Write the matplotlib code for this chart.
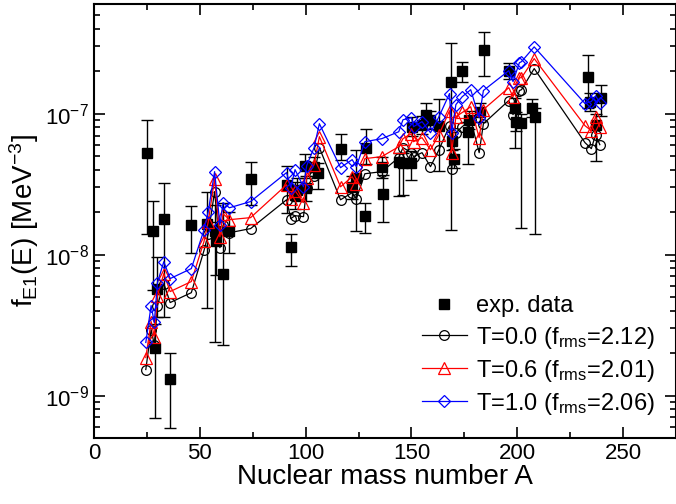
import matplotlib
matplotlib.use('Agg')
import matplotlib.pyplot as plt
from matplotlib.ticker import MultipleLocator, LogLocator, NullFormatter
import numpy as np

plt.rcParams['font.family'] = ['Liberation Sans', 'DejaVu Sans']
plt.rcParams['mathtext.default'] = 'regular'

# experimental points: mass number, value, lower and upper end of the error bar
exp_A = [25, 28, 29, 30, 33, 36, 46, 53.5, 57, 57.5, 61, 64, 74,
         91, 93, 95, 96, 99.5, 100, 104, 106, 116.5, 122, 124, 128, 128.5,
         136, 136.5, 144, 146, 150, 150.5, 155, 157, 159, 163, 168.5, 169, 170,
         174, 176.5, 177, 182.5, 184.5, 196, 199, 199.5, 202, 207, 208.5,
         233.5, 234.5, 237, 239.5]
exp_f = [5.29e-8, 1.48e-8, 2.19e-9, 5.74e-9, 1.80e-8, 1.30e-9, 1.63e-8, 1.66e-8, 1.46e-8, 1.24e-8, 7.33e-9, 1.48e-8, 3.46e-8,
         3.13e-8, 1.14e-8, 2.67e-8, 2.89e-8, 4.28e-8, 2.99e-8, 4.21e-8, 3.82e-8, 5.65e-8, 3.03e-8, 3.52e-8, 1.89e-8, 5.74e-8,
         4.21e-8, 2.71e-8, 4.57e-8, 4.49e-8, 4.49e-8, 8.09e-8, 8.36e-8, 9.84e-8, 9.06e-8, 8.22e-8, 1.69e-7, 6.44e-8, 4.80e-8,
         2.02e-7, 7.45e-8, 9.06e-8, 1.03e-7, 2.84e-7, 2.02e-7, 1.10e-7, 8.78e-8, 8.63e-8, 1.10e-7, 9.52e-8,
         1.83e-7, 1.22e-7, 8.36e-8, 1.30e-7]
exp_lo = [1.39e-8, 5.65e-9, 6.98e-10, 3.63e-9, 3.63e-9, 5.93e-10, 1.03e-8, 4.21e-9, 2.41e-9, 7.21e-9, 2.30e-9, 1.03e-8, 2.26e-8,
          1.99e-8, 8.36e-9, 2.10e-8, 2.40e-8, 3.50e-8, 2.40e-8, 3.60e-8, 2.94e-8, 4.72e-8, 2.50e-8, 1.46e-8, 1.43e-8, 4.40e-8,
          3.50e-8, 1.71e-8, 2.62e-8, 2.67e-8, 3.40e-8, 6.90e-8, 7.20e-8, 8.30e-8, 7.80e-8, 3.94e-8, 1.50e-8, 5.50e-8, 4.10e-8,
          1.69e-7, 4.42e-8, 7.80e-8, 8.80e-8, 1.86e-7, 1.75e-7, 5.74e-8, 7.50e-8, 1.55e-8, 9.40e-8, 1.39e-8,
          1.10e-7, 1.05e-7, 4.64e-8, 9.68e-8]
exp_hi = [9.06e-8, 2.42e-8, 3.20e-9, 9.68e-9, 3.24e-8, 1.99e-9, 2.23e-8, 2.80e-8, 2.26e-8, 1.71e-8, 2.34e-8, 2.02e-8, 4.57e-8,
          4.28e-8, 1.41e-8, 3.30e-8, 3.50e-8, 5.20e-8, 3.60e-8, 4.90e-8, 4.50e-8, 7.21e-8, 3.60e-8, 5.55e-8, 2.34e-8, 7.83e-8,
          4.90e-8, 3.69e-8, 5.30e-8, 5.30e-8, 5.40e-8, 9.50e-8, 9.60e-8, 1.20e-7, 1.05e-7, 1.28e-7, 3.19e-7, 7.40e-8, 5.60e-8,
          2.34e-7, 8.80e-8, 1.05e-7, 1.20e-7, 3.82e-7, 2.30e-7, 1.30e-7, 1.02e-7, 1.00e-7, 1.28e-7, 1.10e-7,
          2.62e-7, 1.40e-7, 1.00e-7, 1.61e-7]

# model curves
th_A = [24.5, 27, 28.5, 30, 33, 36, 46, 52, 54, 57, 59.5, 61, 64, 74,
        91, 93, 95, 99, 100.5, 104, 106.5, 116.5, 122, 124, 128, 136,
        144, 146, 150, 151, 155, 159, 163, 168, 169, 171, 174, 178, 182, 184,
        196, 198, 201, 202, 208, 232, 235, 237, 239]
f_T00 = [1.53e-9, 2.94e-9, 2.30e-9, 4.35e-9, 6.23e-9, 4.57e-9, 5.37e-9, 1.07e-8, 1.41e-8, 2.80e-8, 1.12e-8, 1.61e-8, 1.43e-8, 1.53e-8,
         2.45e-8, 1.80e-8, 1.89e-8, 1.86e-8, 2.99e-8, 3.63e-8, 5.74e-8, 2.45e-8, 2.75e-8, 2.49e-8, 3.75e-8, 3.88e-8,
         4.88e-8, 5.74e-8, 5.29e-8, 4.96e-8, 5.29e-8, 4.21e-8, 5.55e-8, 8.22e-8, 4.07e-8, 7.33e-8, 8.09e-8, 9.06e-8, 5.29e-8, 8.49e-8,
         1.24e-7, 9.84e-8, 1.46e-7, 1.48e-7, 2.09e-7, 6.23e-8, 5.65e-8, 7.10e-8, 6.03e-8]
f_T06 = [1.86e-9, 3.35e-9, 2.62e-9, 5.12e-9, 7.33e-9, 5.47e-9, 6.44e-9, 1.24e-8, 1.71e-8, 3.46e-8, 1.34e-8, 1.95e-8, 1.77e-8, 1.83e-8,
         3.13e-8, 2.49e-8, 2.84e-8, 2.34e-8, 3.52e-8, 4.35e-8, 6.87e-8, 3.03e-8, 3.57e-8, 3.19e-8, 4.80e-8, 4.96e-8,
         5.83e-8, 6.65e-8, 7.21e-8, 6.33e-8, 6.76e-8, 5.55e-8, 7.10e-8, 1.05e-7, 5.29e-8, 9.52e-8, 1.02e-7, 1.12e-7, 6.76e-8, 1.07e-7,
         1.53e-7, 1.32e-7, 1.80e-7, 1.80e-7, 2.46e-7, 8.22e-8, 7.57e-8, 9.52e-8, 8.09e-8]
f_T10 = [2.38e-9, 4.35e-9, 3.30e-9, 6.33e-9, 8.91e-9, 6.76e-9, 7.96e-9, 1.50e-8, 2.02e-8, 3.88e-8, 1.63e-8, 2.34e-8, 2.15e-8, 2.38e-8,
         3.82e-8, 2.99e-8, 4.01e-8, 3.03e-8, 4.28e-8, 5.74e-8, 8.49e-8, 4.14e-8, 4.72e-8, 4.21e-8, 6.33e-8, 6.65e-8,
         7.45e-8, 9.06e-8, 9.37e-8, 8.09e-8, 8.78e-8, 7.33e-8, 9.52e-8, 1.39e-7, 7.33e-8, 1.16e-7, 1.32e-7, 1.48e-7, 9.37e-8, 1.46e-7,
         2.02e-7, 1.69e-7, 2.30e-7, 2.34e-7, 2.98e-7, 1.18e-7, 1.22e-7, 1.34e-7, 1.20e-7]

labels = ['exp. data',
          'T=0.0 (f$_{rms}$=2.12)',
          'T=0.6 (f$_{rms}$=2.01)',
          'T=1.0 (f$_{rms}$=2.06)']

fig = plt.figure(figsize=(6.76, 5.04), dpi=100)
ax = fig.add_axes([0.139, 0.131, 0.861, 0.861])

exp_f_arr = np.array(exp_f)
yerr = [exp_f_arr - np.array(exp_lo), np.array(exp_hi) - exp_f_arr]
h_exp = ax.errorbar(exp_A, exp_f, yerr=yerr, fmt='s', color='black', ms=7.5,
                    elinewidth=1, capsize=4, capthick=1, zorder=2)

h0, = ax.plot(th_A, f_T00, '-o', color='black', mfc='none', ms=7, mew=0.9, lw=0.9, zorder=3)
h1, = ax.plot(th_A, f_T06, '-^', color='red', mfc='none', ms=8, mew=0.9, lw=0.9, zorder=3)
h2, = ax.plot(th_A, f_T10, '-D', color='blue', mfc='none', ms=6.5, mew=0.9, lw=0.9, zorder=3)

ax.set_yscale('log')
ax.set_xlim(0, 275)
ax.set_ylim(5e-10, 6e-7)
ax.xaxis.set_major_locator(MultipleLocator(50))
ax.xaxis.set_minor_locator(MultipleLocator(25))
ax.yaxis.set_minor_locator(LogLocator(base=10, subs=np.arange(2, 10)))
ax.yaxis.set_minor_formatter(NullFormatter())
ax.tick_params(which='both', direction='in', top=True, right=True, labelsize=16, width=1.2)
ax.tick_params(which='major', length=8)
ax.tick_params(which='minor', length=4)
for sp in ax.spines.values():
    sp.set_linewidth(1.5)

ax.set_xlabel('Nuclear mass number A', fontsize=20, labelpad=0)
ax.set_ylabel(r'f$_{E1}$(E) [MeV$^{-3}$]', fontsize=20, labelpad=3)

exp_marker = plt.Line2D([], [], ls='none', marker='s', color='black', ms=7.5)
ax.legend([exp_marker, h0, h1, h2], labels, loc='lower right', bbox_to_anchor=(1.0, 0.0),
          frameon=False, fontsize=17, handlelength=1.9, labelspacing=0.3, handletextpad=0.4)

fig.savefig('out.png', dpi=100)
